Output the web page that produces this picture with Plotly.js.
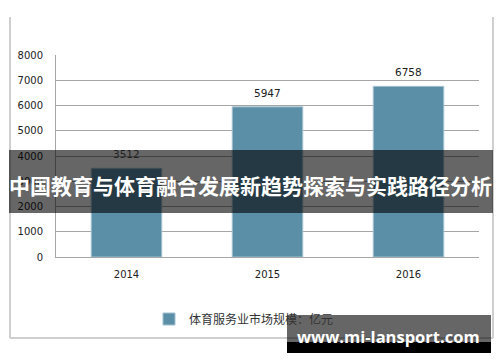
<!DOCTYPE html>
<html>
<head>
<meta charset="utf-8">
<script src="https://cdn.plot.ly/plotly-3.0.1.min.js"></script>
<style>html,body{margin:0;padding:0;background:#fff;}#chart{width:500px;height:362px;}</style>
</head>
<body>
<div id="chart"></div>
<script>
const categories = ['2014', '2015', '2016'];
const marketSize = [3512, 5947, 6758];
const seriesName = '体育服务业市场规模：亿元';
const yTicks = [0, 1000, 2000, 3000, 4000, 5000, 6000, 7000, 8000];
const bannerText = '中国教育与体育融合发展新趋势探索与实践路径分析';
const watermarkText = 'www.mi-lansport.com';

const W = 500, H = 362, L = 56, R = 21, T = 55, B = 105;
const pw = W - L - R, ph = H - T - B;
const px = x => (x - L) / pw;
const py = y => (H - B - y) / ph;

const barColor = '#5b8fa7';

const trace = {
  type: 'bar',
  x: categories,
  y: marketSize,
  name: seriesName,
  marker: {color: barColor, line: {color: '#a3c1d0', width: 1}},
  width: 0.5,
  hoverinfo: 'x+y'
};

const labelAnn = categories.map((c, i) => ({
  x: i, y: marketSize[i], xref: 'x', yref: 'y',
  text: String(marketSize[i]), showarrow: false,
  yanchor: 'bottom', yshift: 6,
  font: {family: 'DejaVu Sans', size: 10.5, color: '#222'}
}));

const frameColor = '#cfcfcf';
const shapes = [
  {type: 'line', xref: 'paper', yref: 'paper', x0: px(10), x1: px(10), y0: py(17), y1: py(338), line: {color: frameColor, width: 2}, layer: 'below'},
  {type: 'line', xref: 'paper', yref: 'paper', x0: px(493), x1: px(493), y0: py(17), y1: py(338), line: {color: frameColor, width: 2}, layer: 'below'},
  {type: 'line', xref: 'paper', yref: 'paper', x0: px(10), x1: px(493), y0: py(338), y1: py(338), line: {color: frameColor, width: 2}, layer: 'below'},
  {type: 'rect', xref: 'paper', yref: 'paper', x0: px(9), x1: px(493), y0: py(150), y1: py(213), fillcolor: 'rgba(0,0,0,0.6)', line: {width: 0}, layer: 'above'},
  {type: 'rect', xref: 'paper', yref: 'paper', x0: px(287), x1: px(491), y0: py(315), y1: py(342), fillcolor: 'rgba(0,0,0,0.6)', line: {width: 0}, layer: 'above'},
  {type: 'rect', xref: 'paper', yref: 'paper', x0: px(287), x1: px(491), y0: py(342), y1: py(353), fillcolor: '#000', line: {width: 0}, layer: 'above'}
];

const annotations = labelAnn.concat([
  {xref: 'paper', yref: 'paper', x: px(250), y: py(185), text: '<b>' + bannerText + '</b>', showarrow: false,
   xanchor: 'center', yanchor: 'middle', font: {family: 'Noto Sans CJK SC', size: 21, color: '#fff'}},
  {xref: 'paper', yref: 'paper', x: px(388), y: py(336), text: '<b>' + watermarkText + '</b>', showarrow: false,
   xanchor: 'center', yanchor: 'middle', font: {family: 'Open Sans', size: 16.5, color: '#fff'}}
]);

const layout = {
  width: W, height: H,
  margin: {l: L, r: R, t: T, b: B, pad: 0},
  paper_bgcolor: '#fff', plot_bgcolor: '#fff',
  showlegend: true,
  legend: {orientation: 'h', x: px(244), y: py(319), xanchor: 'center', yanchor: 'middle',
           font: {family: 'Noto Sans CJK SC', size: 12, color: '#333'}, itemwidth: 30, bgcolor: 'rgba(0,0,0,0)'},
  xaxis: {type: 'category', range: [-0.5, 2.5], showgrid: false, showline: true, linecolor: '#a6a6a6', linewidth: 1,
          ticks: '', ticklabelstandoff: 8, zeroline: false,
          tickfont: {family: 'DejaVu Sans', size: 10, color: '#222'}},
  yaxis: {range: [0, 8000], tickvals: yTicks, ticktext: yTicks.map(String), showgrid: true, gridcolor: '#a6a6a6', gridwidth: 1,
          showline: true, linecolor: '#a6a6a6', linewidth: 1, zeroline: false, ticks: '', ticklabelstandoff: 10,
          tickfont: {family: 'DejaVu Sans', size: 10, color: '#222'}},
  shapes: shapes,
  annotations: annotations
};

Plotly.newPlot('chart', [trace], layout, {displayModeBar: false, staticPlot: true});
</script>
</body>
</html>
